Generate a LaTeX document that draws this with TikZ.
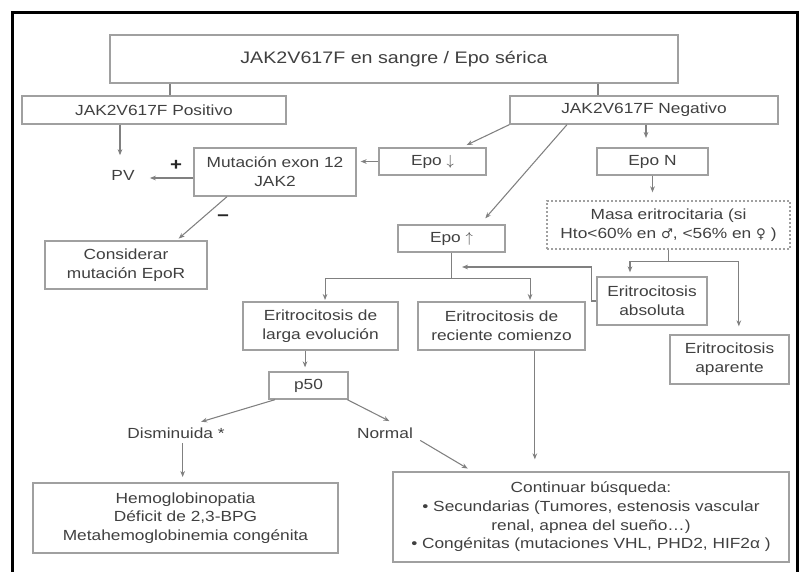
\documentclass[tikz,border=0pt]{standalone}
\usepackage{fontspec}
\setmainfont[FakeStretch=1.18]{Liberation Sans}
\newfontfamily\symfont{DejaVu Sans}
\usetikzlibrary{arrows.meta}
\definecolor{txtgray}{HTML}{404040}
\definecolor{boxgray}{HTML}{A0A0A0}
\definecolor{arrgray}{HTML}{808080}

\begin{document}
\begin{tikzpicture}[x=0.75pt,y=-0.75pt,
	box/.style={draw=boxgray,line width=1pt,text=txtgray,align=center,font=\fontsize{11}{14}\selectfont,inner sep=0pt},
	dbox/.style={box,dash pattern=on 1.5pt off 1.5pt},
	lbl/.style={text=txtgray,font=\fontsize{11}{14}\selectfont},
	sign/.style={text=black!85,font=\bfseries\fontsize{13}{14}\selectfont},
	arr/.style={draw=arrgray,line width=0.8pt,-{Stealth[length=4.5pt,width=3.5pt]}},
	link/.style={draw=arrgray,line width=0.8pt}]
	\useasboundingbox (0,0) rectangle (801,572);
	\draw[line width=2.25pt] (12,572) -- (12,12) -- (797,12) -- (797,572);

	\node[box,minimum width=426pt,minimum height=36pt,font=\fontsize{12.5}{15}\selectfont] at (394,59) (title) {JAK2V617F en sangre / Epo sérica};
	\node[box,minimum width=198pt,minimum height=21pt] at (154,110) (pos) {JAK2V617F Positivo};
	\node[box,minimum width=201pt,minimum height=21pt] at (644,110) (neg) {JAK2V617F Negativo};
	\node[lbl] at (123,175) (pv) {PV};
	\node[box,minimum width=121.5pt,minimum height=36pt] at (275,172) (mut) {Mutación exon 12\\JAK2};
	\node[box,minimum width=80.25pt,minimum height=20.25pt] at (432.5,161.5) (epodown) {Epo $\downarrow$};
	\node[box,minimum width=83.25pt,minimum height=20.25pt] at (652.5,161.5) (epon) {Epo N};
	\node[dbox,minimum width=182.25pt,minimum height=36pt] at (668.5,225) (masa) {Masa eritrocitaria (si\\Hto<60\% en {\symfont\fontsize{10}{14}\selectfont ♂}, <56\% en {\symfont\fontsize{10}{14}\selectfont ♀} )};
	\node[box,minimum width=80.25pt,minimum height=20.25pt] at (451.5,238.5) (epoup) {Epo $\uparrow$};
	\node[box,minimum width=121.5pt,minimum height=36pt] at (126,265) (consid) {Considerar\\mutación EpoR};
	\node[box,minimum width=82.5pt,minimum height=36pt] at (652,301) (absol) {Eritrocitosis\\absoluta};
	\node[box,minimum width=116.25pt,minimum height=36pt] at (320.5,326) (larga) {Eritrocitosis de\\larga evolución};
	\node[box,minimum width=125.25pt,minimum height=36pt] at (501.5,326) (recien) {Eritrocitosis de\\reciente comienzo};
	\node[box,minimum width=89.25pt,minimum height=36.75pt] at (729.5,359.5) (apar) {Eritrocitosis\\aparente};
	\node[box,minimum width=59.25pt,minimum height=20.25pt] at (308.5,385.5) (p50) {p50};
	\node[lbl] at (176,433) (dismin) {Disminuida *};
	\node[lbl] at (385,433) (normal) {Normal};
	\node[box,minimum width=228.75pt,minimum height=52.5pt] at (185.5,518) (hemo) {Hemoglobinopatia\\Déficit de 2,3-BPG\\Metahemoglobinemia congénita};
	\node[box,minimum width=297pt,minimum height=67.5pt] at (591,517) (cont) {Continuar búsqueda:\\• Secundarias (Tumores, estenosis vascular\\renal, apnea del sueño…)\\• Congénitas (mutaciones VHL, PHD2, HIF2α )};
	\node[sign] at (176,165) (plus) {+};
	\node[sign] at (223,218) (minus) {−};

	\draw[link] ([xshift=12pt]pos.north) -- ([xshift=12pt]pos.north |- title.south);
	\draw[link] ([xshift=-34.5pt]neg.north) -- ([xshift=-34.5pt]neg.north |- title.south);
	\draw[arr,shorten >=7.5pt] ([xshift=-25.5pt]pos.south) -- ([xshift=-25.5pt]pos.south |- pv.north);
	\draw[arr,shorten >=8pt] ([yshift=-4.5pt]mut.west) -- ([yshift=-4.5pt]mut.west -| pv.east);
	\draw[arr,shorten >=3pt] (epodown.west) -- (epodown.west -| mut.east);
	\draw[arr,shorten >=4pt] (neg.south west) -- ([xshift=22pt]epodown.north);
	\draw[arr,shorten >=7pt] ([xshift=1.5pt]neg.south) -- ([xshift=1.5pt]neg.south |- epon.north);
	\draw[arr,shorten >=6pt] ([xshift=-57.75pt]neg.south) -- ([xshift=21.4pt]epoup.north);
	\draw[arr,shorten >=6pt] (epon.south) -- (epon.south |- masa.north);
	\draw[arr,shorten >=2pt] ([xshift=-36pt]mut.south) -- ([xshift=38pt]consid.north);

	% masa eritrocitaria: absoluta / aparente
	\draw[link] (masa.south) -- ++(0,12) coordinate (masafork);
	\draw[arr,shorten >=3pt] (masafork) -| ([xshift=-16.5pt]absol.north);
	\draw[arr,shorten >=6pt] (masafork) -| ([xshift=7pt]apar.north);

	% epo alta: larga / reciente
	\draw[link] (epoup.south) -- ++(0,26) coordinate (epofork);
	\draw[arr,shorten >=1pt] (epofork) -| ([xshift=3.4pt]larga.north);
	\draw[arr,shorten >=1pt] (epofork) -| ([xshift=21.4pt]recien.north);
	\coordinate (epotip) at (462,267);
	\draw[arr] (absol.west) -- ++(-5,0) |- (epotip);

	\draw[arr,shorten >=3pt] ([xshift=-11.6pt]larga.south) -- ([xshift=-11.6pt]larga.south |- p50.north);
	\draw[arr,shorten >=3pt] ([xshift=5pt]p50.south west) -- ([xshift=16pt]dismin.north);
	\draw[arr,shorten >=3pt] ([xshift=-1pt]p50.south east) -- ([xshift=6pt]normal.north);
	\draw[arr,shorten >=4pt] ([xshift=5pt]dismin.south) -- ([xshift=5pt]dismin.south |- hemo.north);
	\draw[arr,shorten >=4pt] ([xshift=2pt,yshift=2pt]normal.south east) -- ([xshift=60pt]cont.north west);
	\draw[arr,shorten >=9pt] ([xshift=25pt]recien.south) -- ([xshift=25pt]recien.south |- cont.north);
\end{tikzpicture}
\end{document}
